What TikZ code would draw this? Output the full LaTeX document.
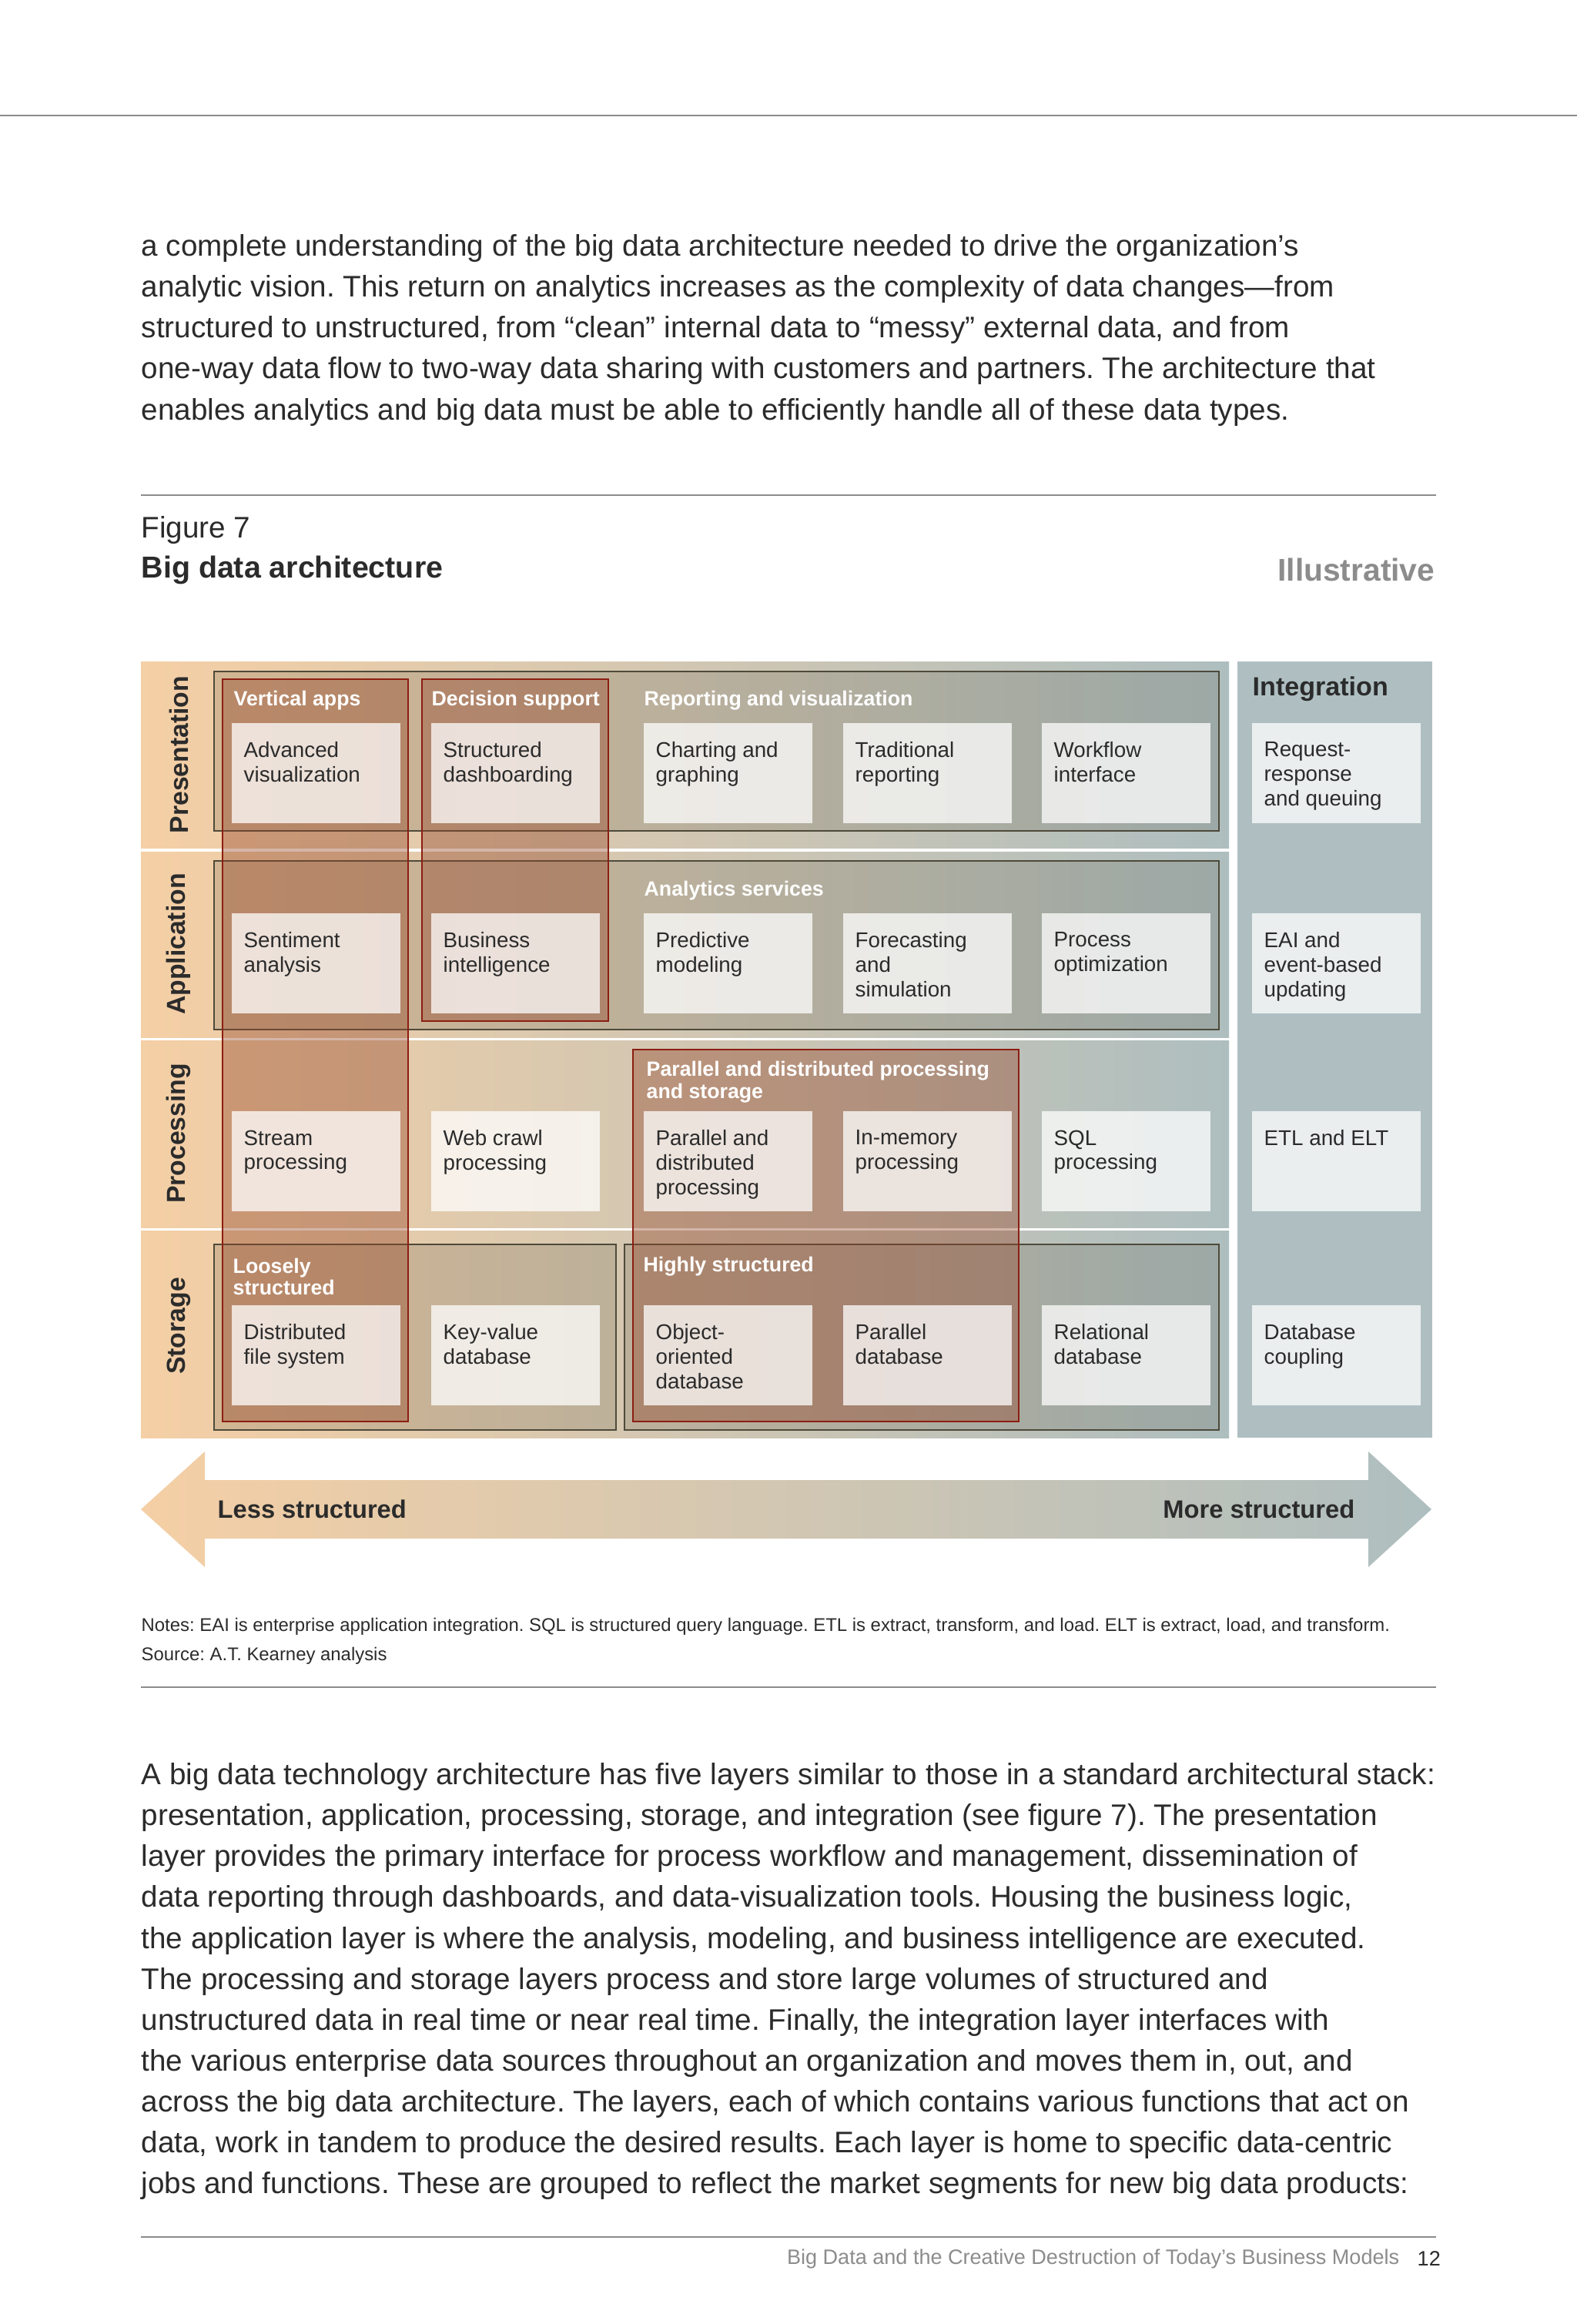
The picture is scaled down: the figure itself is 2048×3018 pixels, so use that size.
\documentclass[tikz,border=0pt]{standalone}
\usepackage{fontspec}
\setmainfont{Liberation Sans}
\usetikzlibrary{positioning}
\frenchspacing

\definecolor{peach}{HTML}{F5CFA5}
\definecolor{sand}{HTML}{DCC8AA}
\definecolor{slate}{HTML}{AEBEBF}
\definecolor{intgr}{HTML}{AFBFC1}
\definecolor{olive}{HTML}{4E4A3A}
\definecolor{rust}{HTML}{8C1E12}
\definecolor{rustfill}{HTML}{94462A}
\definecolor{ink}{HTML}{2B2B2B}
\definecolor{rulegray}{HTML}{8C8C8C}

\tikzset{
	cellbox/.style={anchor=north west, fill=white, fill opacity=0.75, minimum width=2.19cm, minimum height=1.3cm, inner sep=0},
	celltext/.style={anchor=north west, inner sep=0, align=left, text=ink, font=\fontsize{7.9}{9}\selectfont},
	grouplbl/.style={anchor=west, inner sep=0, align=left, text=white, font=\fontsize{7.6}{8.2}\selectfont\bfseries},
	rowlbl/.style={rotate=90, inner sep=0, text=ink, font=\fontsize{9.6}{11}\selectfont\bfseries},
	groupbox/.style={draw=olive, line width=0.2mm, fill=olive, fill opacity=0.18},
	redbox/.style={draw=rust, line width=0.2mm, fill=rustfill, fill opacity=0.4},
	bodytext/.style={anchor=north west, inner sep=0, align=left, text=ink, font=\fontsize{11}{15.1}\selectfont},
	notetext/.style={anchor=west, inner sep=0, text=ink, font=\fontsize{6.8}{8}\selectfont},
	arrowlbl/.style={inner sep=0, text=ink, font=\fontsize{9.3}{11}\selectfont\bfseries}
}

% one function box: name, x, y, text
\newcommand{\bdcell}[4]{%
	\node[cellbox] (#1) at (#2,#3) {};
	\node[celltext] (#1t) at ([shift={(16,25)}]#1.north west) {#4};
}

\begin{document}
\begin{tikzpicture}[x=0.1mm, y=-0.1mm]
	\fill[white] (0,0) rectangle (2048,3018);
	\useasboundingbox (0,0) rectangle (2048,3018);

	% page rules
	\draw[rulegray, line width=0.25mm] (0,150) -- (2048,150);
	\foreach \y in {643, 2191, 2905}
		\draw[rulegray, line width=0.2mm] (183,\y) -- (1865,\y);

	% running text
	\node[bodytext] (para1) at (183,304) {a complete understanding of the big data architecture needed to drive the organization’s\\
		analytic vision. This return on analytics increases as the complexity of data changes—from\\
		structured to unstructured, from “clean” internal data to “messy” external data, and from\\
		one-way data flow to two-way data sharing with customers and partners. The architecture that\\
		enables analytics and big data must be able to efficiently handle all of these data types.};

	% figure heading
	\node[anchor=west, inner sep=0, text=ink, font=\fontsize{11}{13}\selectfont] (fignum) at (183,688) {Figure 7};
	\node[anchor=west, inner sep=0, text=ink, font=\fontsize{11.2}{13}\selectfont\bfseries] (figtitle) at (183,740) {Big data architecture};
	\node[anchor=east, inner sep=0, text=rulegray, font=\fontsize{11.6}{13}\selectfont\bfseries] (illus) at (1864,740) {Illustrative};

	% layer bands
	\foreach \ya/\yb in {859/1101, 1106/1347, 1351/1594, 1598/1867}
		\shade[left color=peach, middle color=sand, right color=slate] (183,\ya) rectangle (1596,\yb);
	\fill[intgr] (1607,859) rectangle (1860,1867);

	% groups
	\draw[groupbox] (278,872) rectangle (1583,1079);
	\draw[groupbox] (278,1118) rectangle (1583,1337);
	\draw[groupbox] (278,1616) rectangle (800,1857);
	\draw[groupbox] (811,1616) rectangle (1583,1857);
	\draw[redbox] (289,882) rectangle (530,1846);
	\draw[redbox] (548,882) rectangle (790,1326);
	\draw[redbox] (822,1363) rectangle (1323,1846);

	% layer names
	\foreach \yc/\name/\txt in {980/pres/Presentation, 1226/appl/Application, 1472/proc/Processing, 1722/stor/Storage}
		\node[rowlbl] (lbl-\name) at (232,\yc) {\txt};

	% function boxes
	\foreach \cx/\ct [count=\i] in {300/{Advanced\\visualization}, 559/{Structured\\dashboarding}, 835/{Charting and\\graphing}, 1094/{Traditional\\reporting}, 1352/{Workflow\\interface}, 1625/{Request-\\response\\and queuing}}
		\bdcell{pres\i}{\cx}{938}{\ct};
	\foreach \cx/\ct [count=\i] in {300/{Sentiment\\analysis}, 559/{Business\\intelligence}, 835/{Predictive\\modeling}, 1094/{Forecasting\\and\\simulation}, 1352/{Process\\optimization}, 1625/{EAI and\\event-based\\updating}}
		\bdcell{appl\i}{\cx}{1185}{\ct};
	\foreach \cx/\ct [count=\i] in {300/{Stream\\processing}, 559/{Web crawl\\processing}, 835/{Parallel and\\distributed\\processing}, 1094/{In-memory\\processing}, 1352/{SQL\\processing}, 1625/{ETL and ELT}}
		\bdcell{proc\i}{\cx}{1442}{\ct};
	\foreach \cx/\ct [count=\i] in {300/{Distributed\\file system}, 559/{Key-value\\database}, 835/{Object-\\oriented\\database}, 1094/{Parallel\\database}, 1352/{Relational\\database}, 1625/{Database\\coupling}}
		\bdcell{stor\i}{\cx}{1694}{\ct};

	% group names
	\node[grouplbl] (vapps) at (303,910) {Vertical apps};
	\node[grouplbl] (dsupp) at (560,910) {Decision support};
	\node[grouplbl] (repviz) at (836,910) {Reporting and visualization};
	\node[grouplbl] (anserv) at (836,1157) {Analytics services};
	\node[grouplbl] (pardist) at (839,1405) {Parallel and distributed processing\\and storage};
	\node[grouplbl] (loose) at (302,1658) {Loosely\\structured};
	\node[grouplbl] (highly) at (835,1645) {Highly structured};
	\node[anchor=west, inner sep=0, text=ink, font=\fontsize{9.7}{11}\selectfont\bfseries] (integ) at (1626,895) {Integration};

	% structure arrow
	\shade[left color=peach, middle color=sand!70!slate, right color=slate]
		(183,1960) -- (266,1885) -- (266,1922) -- (1777,1922) -- (1777,1885) -- (1859,1960)
		-- (1777,2035) -- (1777,1998) -- (266,1998) -- (266,2035) -- cycle;
	\node[arrowlbl, anchor=west] (less) at (282,1960) {Less structured};
	\node[arrowlbl, anchor=east] (more) at (1760,1960) {More structured};

	% notes
	\node[notetext] (notes) at (183,2112) {Notes: EAI is enterprise application integration. SQL is structured query language. ETL is extract, transform, and load. ELT is extract, load, and transform.};
	\node[notetext] (source) at (183,2150) {Source: A.T. Kearney analysis};

	\node[bodytext] (para2) at (183,2289) {A big data technology architecture has five layers similar to those in a standard architectural stack:\\
		presentation, application, processing, storage, and integration (see figure 7). The presentation\\
		layer provides the primary interface for process workflow and management, dissemination of\\
		data reporting through dashboards, and data-visualization tools. Housing the business logic,\\
		the application layer is where the analysis, modeling, and business intelligence are executed.\\
		The processing and storage layers process and store large volumes of structured and\\
		unstructured data in real time or near real time. Finally, the integration layer interfaces with\\
		the various enterprise data sources throughout an organization and moves them in, out, and\\
		across the big data architecture. The layers, each of which contains various functions that act on\\
		data, work in tandem to produce the desired results. Each layer is home to specific data-centric\\
		jobs and functions. These are grouped to reflect the market segments for new big data products:};

	% footer
	\node[anchor=east, inner sep=0, text=rulegray, font=\fontsize{7.7}{9}\selectfont] (foot) at (1818,2933) {Big Data and the Creative Destruction of Today’s Business Models};
	\node[right=0.22cm of foot, inner sep=0, text=ink, font=\fontsize{7.7}{9}\selectfont] (pageno) {12};
\end{tikzpicture}
\end{document}
